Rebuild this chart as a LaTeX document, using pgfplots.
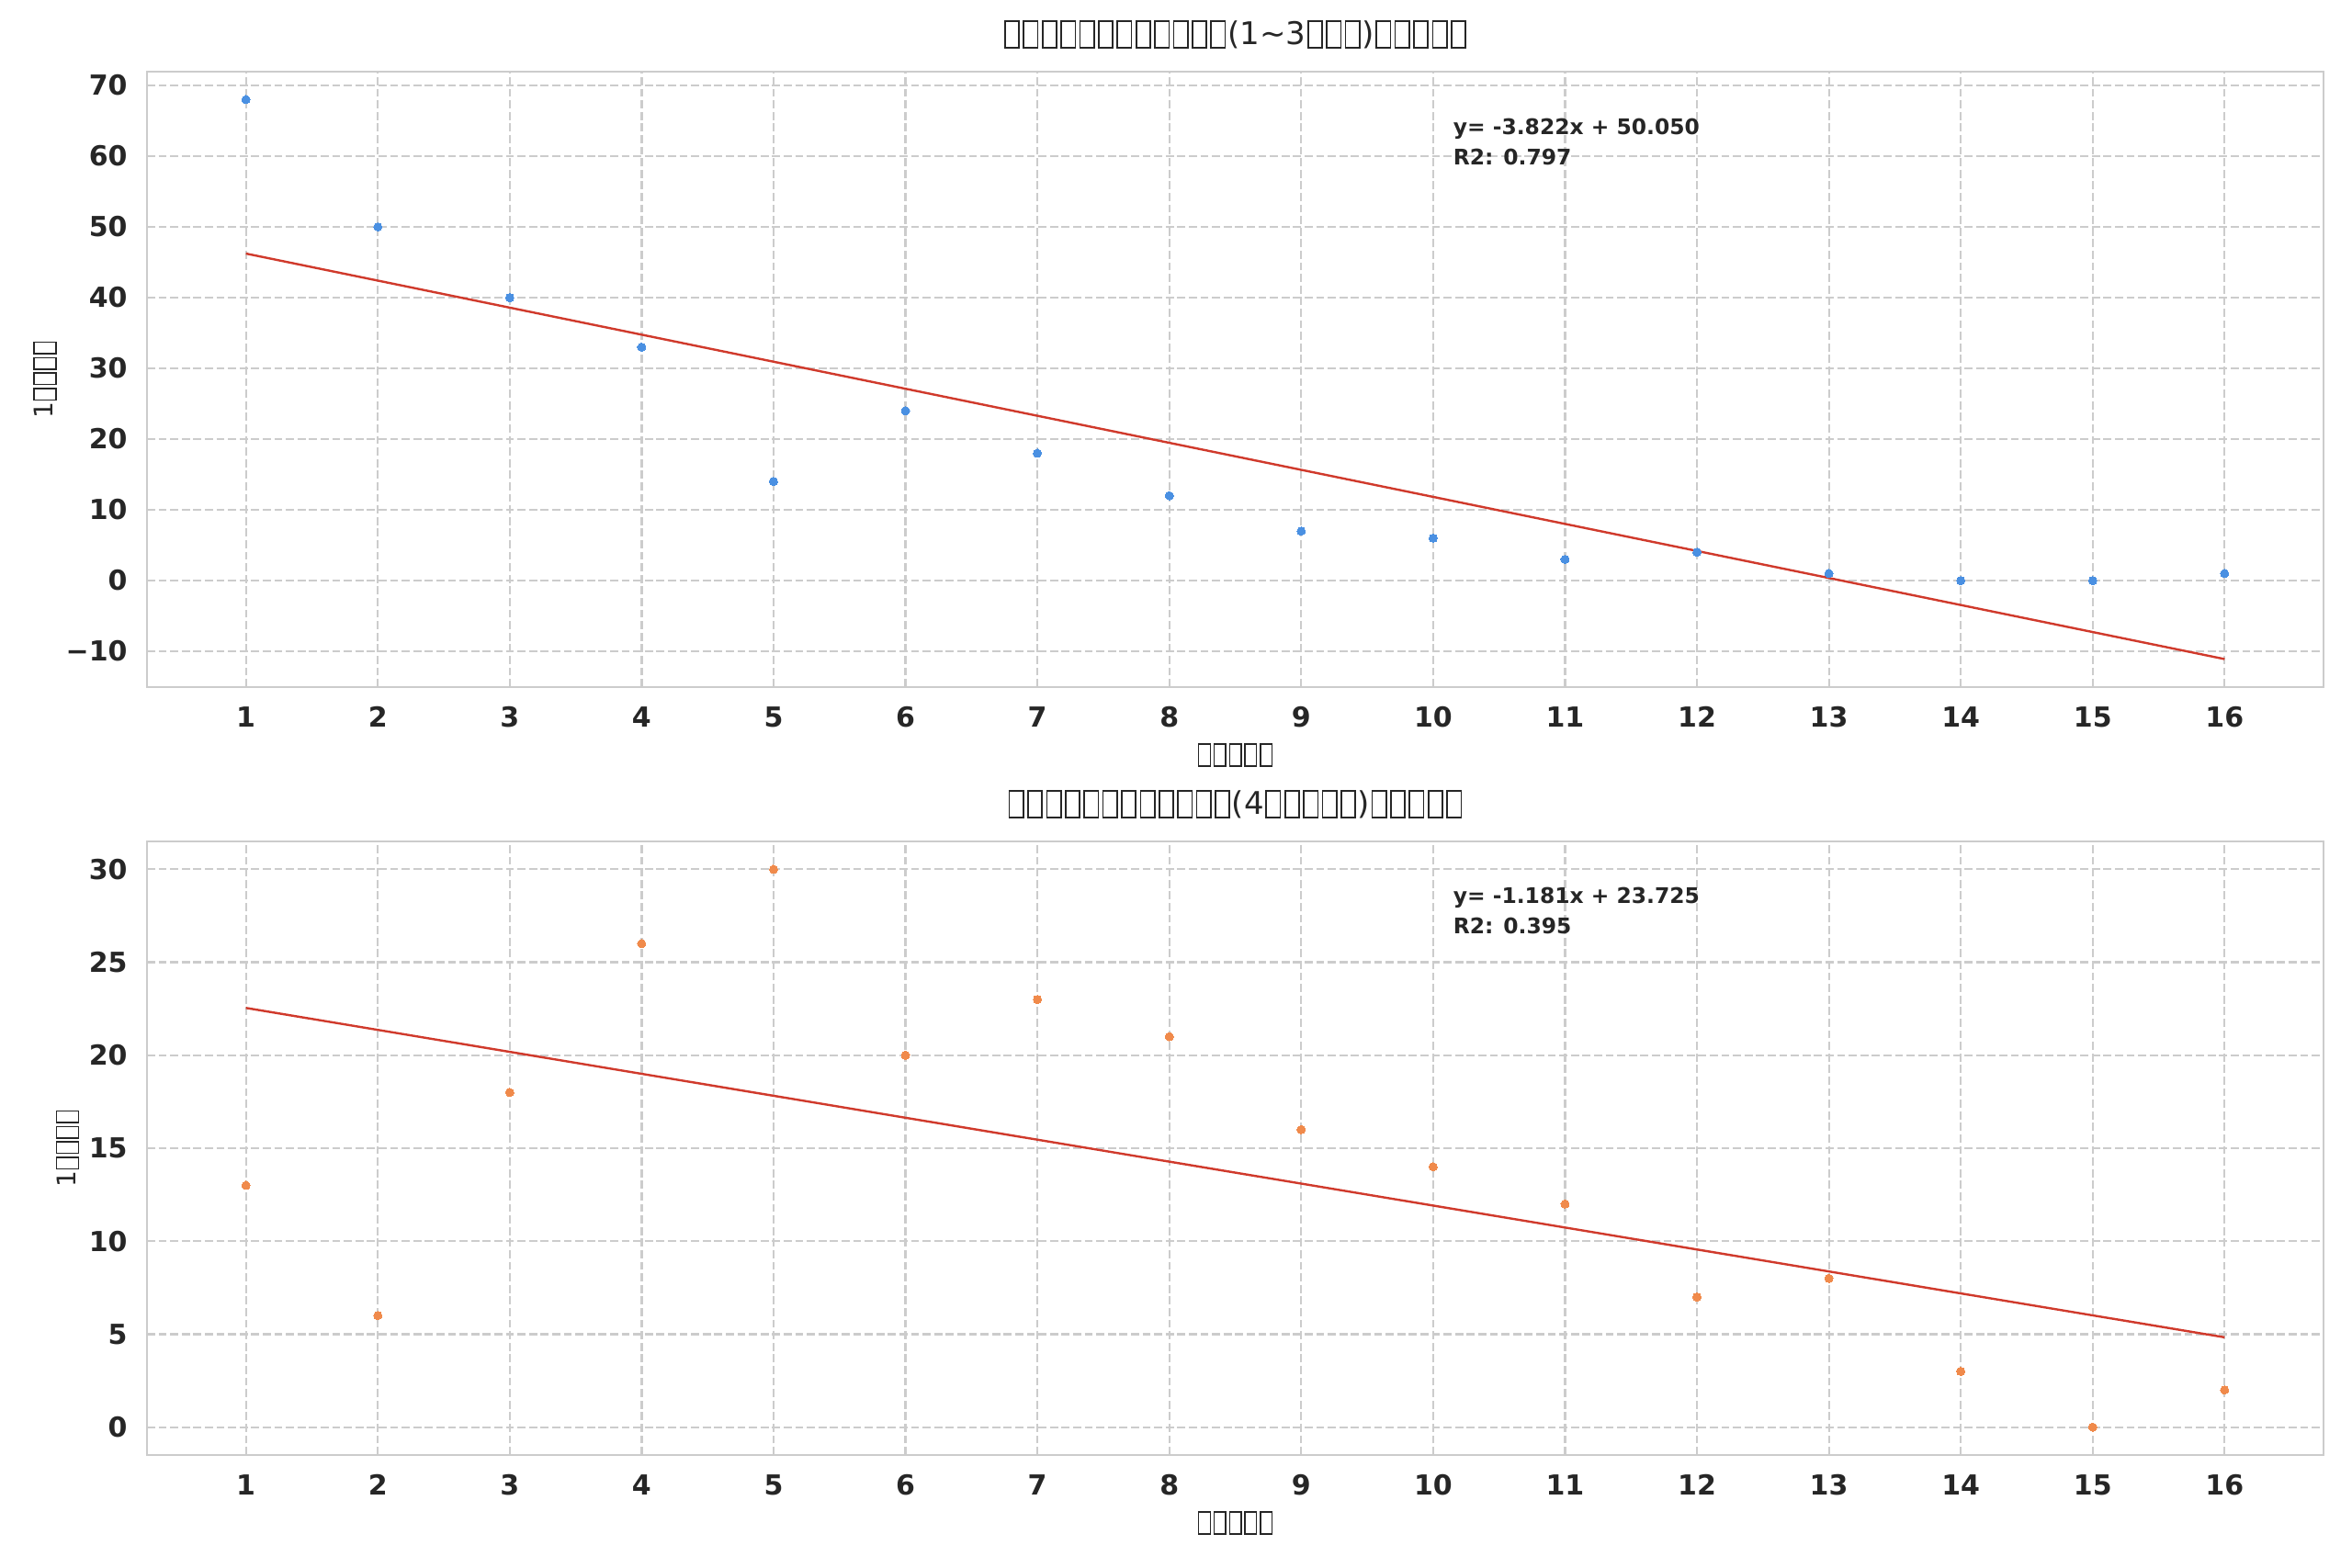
\documentclass[border=0pt]{standalone}
\usepackage{pgfplots}
\pgfplotsset{compat=1.18}
\usepackage{fontspec}
\setmainfont{DejaVu Sans}
\definecolor{ptblue}{HTML}{4A90E2}
\definecolor{ptorange}{HTML}{F08A4B}
\definecolor{fitred}{HTML}{D03A2C}
\definecolor{gridgray}{HTML}{CCCCCC}
\definecolor{txt}{HTML}{262626}
% missing-glyph boxes, as drawn in the reference
\newcommand\tofu{\leavevmode\hbox{\kern0.05em\lower0.13em\vbox{\hrule height0.05em\hbox{\vrule width0.05em height0.8em\kern0.4em\vrule width0.05em}\hrule height0.05em}\kern0.05em}}
\newcommand\tthree{\tofu\tofu\tofu}
\newcommand\tfour{\tofu\tofu\tofu\tofu}
\newcommand\tfive{\tfour\tofu}
\newcommand\tsix{\tfive\tofu}
\newcommand\ttwelve{\tsix\tsix}

\pgfplotstableread{
x y
1 68
2 50
3 40
4 33
5 14
6 24
7 18
8 12
9 7
10 6
11 3
12 4
13 1
14 0
15 0
16 1
}\tableA
\pgfplotstableread{
x y
1 13
2 6
3 18
4 26
5 30
6 20
7 23
8 21
9 16
10 14
11 12
12 7
13 8
14 3
15 0
16 2
}\tableB

\pgfplotsset{
 mystyle/.style={
  scale only axis, width=1184.5pt,
  xmin=0.25, xmax=16.75, xtick={1,...,16},
  major tick length=0pt,
  grid=major,
  grid style={draw=gridgray, line width=1.1pt, dash pattern=on 4.4pt off 1.9pt},
  axis line style={draw=gridgray, line width=1.1pt},
  /pgf/number format/assume math mode=true,
  tick label style={font=\fontsize{15}{18}\selectfont\bfseries, text=txt},
  xticklabel style={anchor=base, inner sep=0pt, yshift=-22pt},
  yticklabel style={anchor=east, inner sep=0pt, xshift=-10.5pt},
  label style={font=\fontsize{14}{17}\selectfont, text=txt},
  xlabel style={at={(axis description cs:0.5,0)}, anchor=base, yshift=-41.5pt, inner sep=0pt},
  title style={at={(axis description cs:0.5,1)}, anchor=base, yshift=8.8pt, font=\fontsize{17}{20}\selectfont, text=txt, inner sep=0pt},
 }
}

\begin{document}
\begin{tikzpicture}
\path[use as bounding box] (0,0) rectangle (1280pt,853.5pt);
% upper
\begin{axis}[mystyle, at={(80pt,479.5pt)}, anchor=south west, height=335pt,
  ymin=-15.06, ymax=71.95, ytick={-10,0,10,20,30,40,50,60,70},
  yticklabels={−10,0,10,20,30,40,50,60,70},
  title={\ttwelve(1\textasciitilde3\tthree)\tfive},
  xlabel={\tfive}, ylabel={1\tfour},
  ylabel style={at={(axis description cs:-0.0431,0.5)}, anchor=base, inner sep=0pt},
]
\addplot[only marks, mark=*, mark size=2.25pt, mark options={fill=ptblue, draw=ptblue, line width=0pt}] table[x=x,y=y] {\tableA};
\addplot[fitred, line width=1.2pt] coordinates {(1,46.228) (16,-11.102)};
\node[anchor=north west, inner sep=0pt, align=left, font=\fontsize{11.7}{16.5}\selectfont\bfseries, text=txt] at (rel axis cs:0.6,0.925) {y= -3.822x + 50.050\\R2: 0.797};
\end{axis}
% lower
\begin{axis}[mystyle, at={(80pt,61.5pt)}, anchor=south west, height=334pt,
  ymin=-1.5, ymax=31.5, ytick={0,5,10,15,20,25,30},
  title={\ttwelve(4\tfive)\tfive},
  xlabel={\tfive}, ylabel={1\tfour},
  ylabel style={at={(axis description cs:-0.0327,0.5)}, anchor=base, inner sep=0pt},
]
\addplot[only marks, mark=*, mark size=2.25pt, mark options={fill=ptorange, draw=ptorange, line width=0pt}] table[x=x,y=y] {\tableB};
\addplot[fitred, line width=1.2pt] coordinates {(1,22.544) (16,4.829)};
\node[anchor=north west, inner sep=0pt, align=left, font=\fontsize{11.7}{16.5}\selectfont\bfseries, text=txt] at (rel axis cs:0.6,0.925) {y= -1.181x + 23.725\\R2: 0.395};
\end{axis}
\end{tikzpicture}
\end{document}
